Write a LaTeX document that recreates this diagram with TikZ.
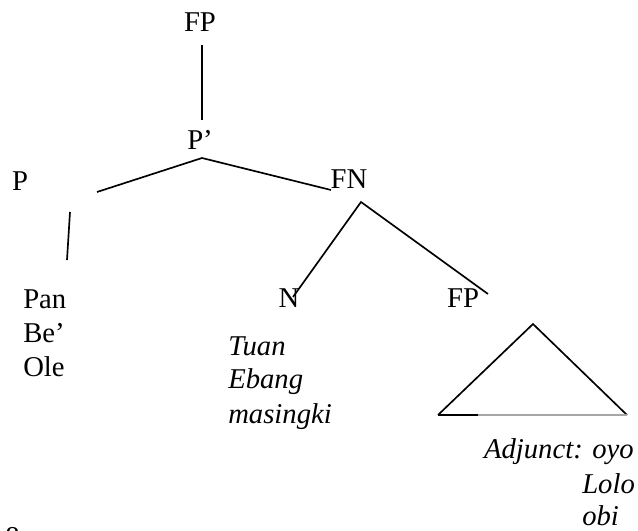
\documentclass[tikz,border=0pt]{standalone}
\usepackage{fontspec}
\setmainfont{Liberation Serif}
\begin{document}
\begin{tikzpicture}[x=0.75pt,y=-0.75pt,
  lab/.style={font=\fontsize{21.5}{26}\selectfont, inner sep=0pt, anchor=base},
  word/.style={font=\fontsize{21.5}{26}\selectfont, inner sep=0pt, anchor=base west},
  iword/.style={font=\fontsize{21.5}{26}\selectfont\itshape, inner sep=0pt, anchor=base west},
  edge/.style={line width=1.25pt, black}]
\useasboundingbox (0,0) rectangle (638,531);
\clip (0,0) rectangle (638,531);
% labels
\node[lab] (fp) at (200,32) {FP};
\node[lab] (pbar) at (200,149) {P’};
\node[lab] (p) at (20,190) {P};
\node[lab] (fn) at (349,188) {FN};
\node[lab] (n) at (289,307) {N};
\node[lab] (fp2) at (463,307) {FP};
% words
\node[word] (pan) at (23,308) {Pan};
\node[word] (be) at (23,342) {Be’};
\node[word] (ole) at (23,376) {Ole};
\node[iword] (tuan) at (228,355) {Tuan};
\node[iword] (ebang) at (228,388) {Ebang};
\node[iword] (mas) at (228,423) {masingki};
\node[iword, anchor=base east] (adj) at (634,458) {Adjunct: oyo};
\node[iword] (lolo) at (582,493) {Lolo};
\node[iword] (obi) at (582,525) {obi};
\node[word] (pg) at (5,546) {8};
% coordinates
\coordinate (a1) at (202,45);
\coordinate (a2) at (202,120);
\coordinate (b0) at (202,158);
\coordinate (b1) at (97,192);
\coordinate (b2) at (331,190);
\coordinate (c1) at (70,212);
\coordinate (c2) at (67,260);
\coordinate (d0) at (361,202);
\coordinate (d1) at (293,297);
\coordinate (d2) at (488,294);
\coordinate (t0) at (533,324);
\coordinate (t1) at (438,415);
\coordinate (t2) at (627,415);
\coordinate (t3) at (478,415);
% edges
\draw[edge] (a1) -- (a2);
\draw[edge] (b1) -- (b0) -- (b2);
\draw[edge] (c1) -- (c2);
\draw[edge] (d1) -- (d0) -- (d2);
\draw[edge] (t1) -- (t0) -- (t2);
\draw[line width=0.8pt, black!35] (t3) -- (t2);
\draw[edge] (t1) -- (t3);
\end{tikzpicture}
\end{document}
